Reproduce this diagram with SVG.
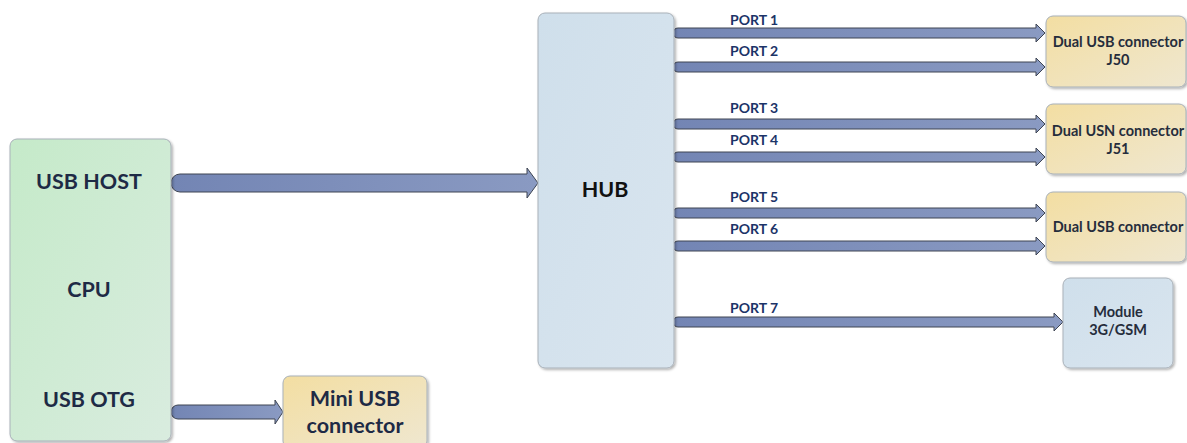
<svg xmlns="http://www.w3.org/2000/svg" xmlns:xlink="http://www.w3.org/1999/xlink" width="1187" height="443" viewBox="0 0 1187 443">
  <style>
    .box { stroke: #a9b1b9; stroke-width: 1; filter: url(#shadow); }
    .arrow { fill: url(#gArrow); stroke: #3e4552; stroke-width: 1; stroke-linejoin: round; }
    .big { font-family: Lato, "Open Sans", sans-serif; font-weight: bold; font-size: 21.5px; fill: #1e2a45; text-anchor: middle; }
    .port { font-family: Lato, "Open Sans", sans-serif; font-weight: bold; font-size: 14px; fill: #1c3468; }
    .small { font-family: Lato, "Open Sans", sans-serif; font-weight: bold; font-size: 14.5px; fill: #262d3c; text-anchor: middle; }
  </style>
  <defs>
    <filter id="shadow" x="-10%" y="-10%" width="130%" height="130%">
      <feDropShadow dx="1.5" dy="1.5" stdDeviation="1.2" flood-color="#000" flood-opacity="0.3"/>
    </filter>
    <linearGradient id="gGreen" x1="0" y1="0" x2="1" y2="1">
      <stop offset="0" stop-color="#c5eac9"/>
      <stop offset="1" stop-color="#d9ecdf"/>
    </linearGradient>
    <linearGradient id="gBlue" x1="0" y1="0" x2="1" y2="1">
      <stop offset="0" stop-color="#cfdfeb"/>
      <stop offset="1" stop-color="#d9e5ef"/>
    </linearGradient>
    <linearGradient id="gYellow" x1="0" y1="0" x2="1" y2="1">
      <stop offset="0" stop-color="#f3dea2"/>
      <stop offset="1" stop-color="#efe7d0"/>
    </linearGradient>
    <linearGradient id="gArrow" x1="0" y1="0" x2="1" y2="0">
      <stop offset="0" stop-color="#7385b4"/>
      <stop offset="1" stop-color="#8a9ac2"/>
    </linearGradient>
    <!-- port arrow centred on y=0, from hub edge to connector edge -->
    <path id="portArrow" d="M678,-5 L1036,-5 L1036,-9 L1045,0 L1036,9 L1036,5 L678,5 A5,5 0 0 1 678,-5 Z"/>
  </defs>

  <rect width="1187" height="443" fill="#ffffff"/>

  <!-- connectors -->
  <g id="connectors">
    <path class="arrow" d="M180,174 L527,174 L527,168 L538,183 L527,198 L527,192 L180,192 A9,9 0 0 1 180,174 Z"/>
    <path class="arrow" d="M178,405 L275,405 L275,400 L283,412 L275,424 L275,419 L178,419 A7,7 0 0 1 178,405 Z"/>
    <use class="arrow" xlink:href="#portArrow" href="#portArrow" y="33"/>
    <use class="arrow" xlink:href="#portArrow" href="#portArrow" y="67"/>
    <use class="arrow" xlink:href="#portArrow" href="#portArrow" y="124"/>
    <use class="arrow" xlink:href="#portArrow" href="#portArrow" y="157"/>
    <use class="arrow" xlink:href="#portArrow" href="#portArrow" y="213"/>
    <use class="arrow" xlink:href="#portArrow" href="#portArrow" y="246"/>
    <path class="arrow" d="M678,317 L1054,317 L1054,313 L1063,322 L1054,331 L1054,327 L678,327 A5,5 0 0 1 678,317 Z"/>
    <text class="port" x="730" y="25">PORT 1</text>
    <text class="port" x="730" y="56">PORT 2</text>
    <text class="port" x="730" y="113">PORT 3</text>
    <text class="port" x="730" y="145">PORT 4</text>
    <text class="port" x="730" y="202">PORT 5</text>
    <text class="port" x="730" y="234">PORT 6</text>
    <text class="port" x="730" y="313">PORT 7</text>
  </g>

  <g id="cpu">
    <rect class="box" x="10" y="139" width="161" height="302" rx="7" fill="url(#gGreen)"/>
    <text class="big" x="89" y="189">USB HOST</text>
    <text class="big" x="89" y="297">CPU</text>
    <text class="big" x="89" y="407">USB OTG</text>
  </g>

  <g id="hub">
    <rect class="box" x="538" y="13" width="136" height="355" rx="7" fill="url(#gBlue)"/>
    <text class="big" x="605" y="197" style="fill:#111111">HUB</text>
  </g>

  <g id="mini-usb">
    <rect class="box" x="283" y="376" width="144" height="72" rx="7" fill="url(#gYellow)"/>
    <text class="big" x="355" y="406">Mini USB</text>
    <text class="big" x="355" y="433">connector</text>
  </g>

  <g id="j50">
    <rect class="box" x="1046" y="16" width="140" height="71" rx="7" fill="url(#gYellow)"/>
    <text class="small" x="1118" y="47">Dual USB connector</text>
    <text class="small" x="1118" y="65">J50</text>
  </g>

  <g id="j51">
    <rect class="box" x="1046" y="104" width="140" height="70" rx="7" fill="url(#gYellow)"/>
    <text class="small" x="1118" y="136">Dual USN connector</text>
    <text class="small" x="1118" y="154">J51</text>
  </g>

  <g id="dual-usb">
    <rect class="box" x="1046" y="192" width="140" height="70" rx="7" fill="url(#gYellow)"/>
    <text class="small" x="1118" y="232">Dual USB connector</text>
  </g>

  <g id="module">
    <rect class="box" x="1063" y="278" width="110" height="90" rx="7" fill="url(#gBlue)"/>
    <text class="small" x="1118" y="317">Module</text>
    <text class="small" x="1118" y="335">3G/GSM</text>
  </g>
</svg>
